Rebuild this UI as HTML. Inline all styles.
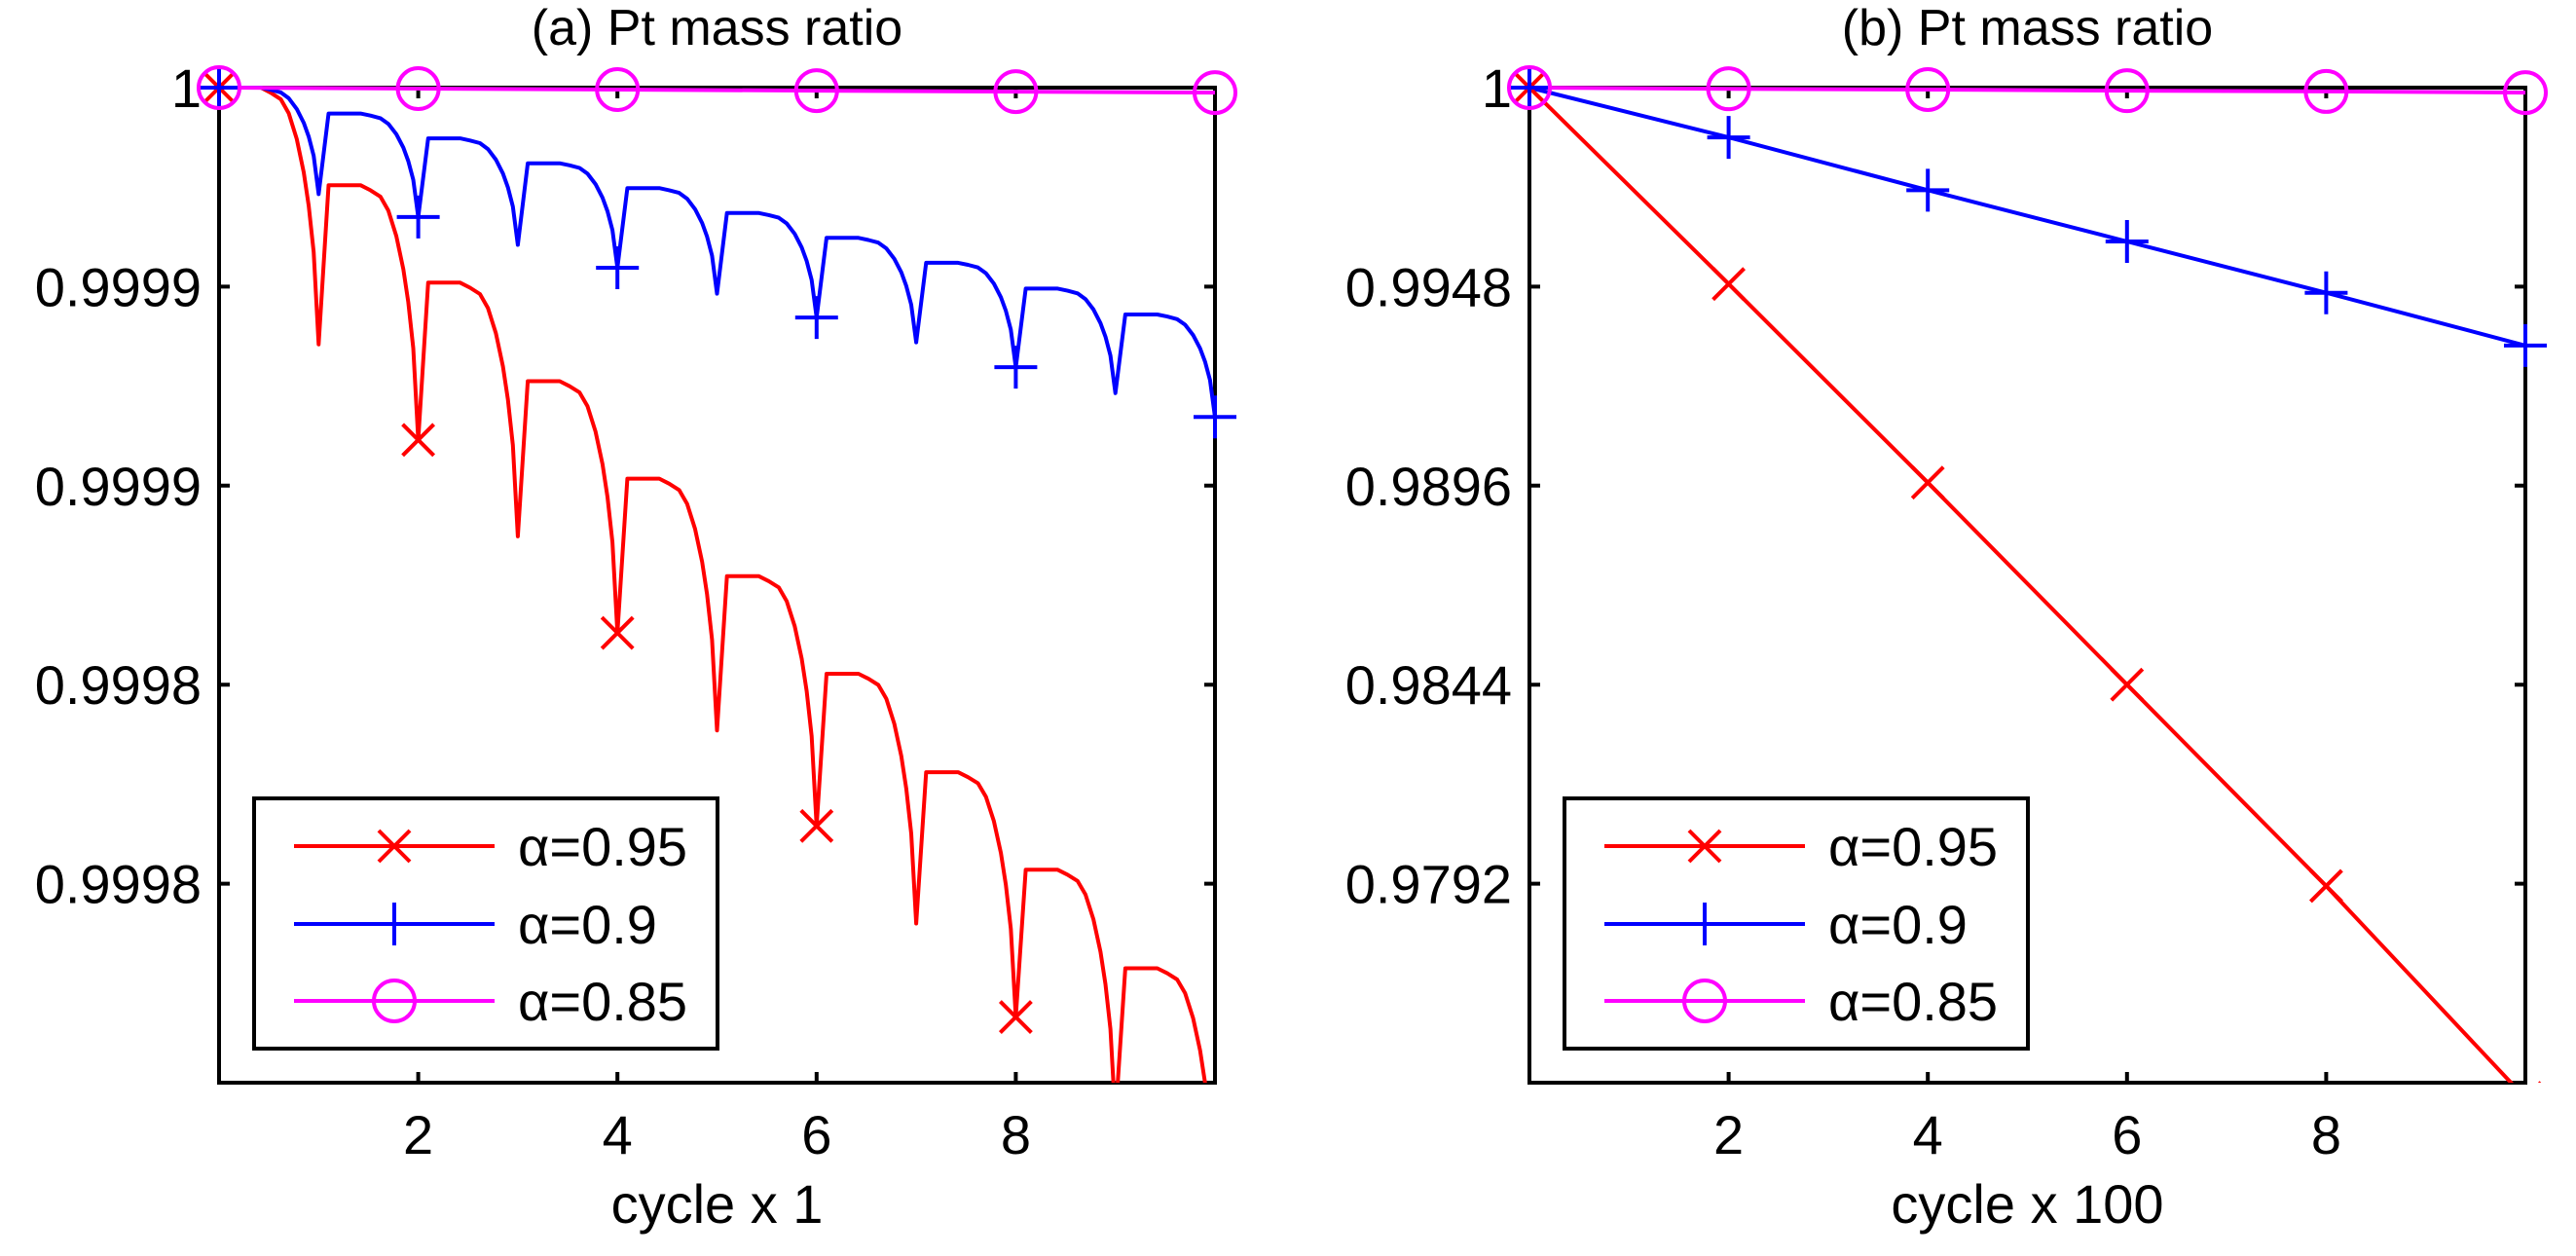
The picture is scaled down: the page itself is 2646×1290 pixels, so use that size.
<!DOCTYPE html>
<html><head><meta charset="utf-8">
<style>
html,body{margin:0;padding:0;background:#fff;}
svg{display:block;font-family:"Liberation Sans",sans-serif;}
</style></head>
<body>
<svg id="fig" width="2646" height="1290" viewBox="0 0 2646 1290" xmlns="http://www.w3.org/2000/svg"></svg>
<script>
// ---------- data: panel (a) ----------
const aCycles = [0,1,2,3,4,5,6,7,8,9];
// drop in units of 1e-5 : plateau level after jump at cycle k, and minimum reached at cycle k+1
const aRedPlateau  = [0, 0.98, 1.96, 2.95, 3.93, 4.91, 5.89, 6.88, 7.86, 8.85];
const aRedMin      = [2.58, 3.54, 4.51, 5.48, 6.46, 7.42, 8.40, 9.34, 10.36, 11.35];
const aBluePlateau = [0, 0.26, 0.51, 0.76, 1.01, 1.26, 1.51, 1.76, 2.02, 2.28];
const aBlueMin     = [1.07, 1.30, 1.58, 1.81, 2.07, 2.31, 2.56, 2.81, 3.07, 3.31];
// within-cycle decay shape (position in cycle, fraction of drop)
const shapeT    = [0.10, 0.42, 0.52, 0.62, 0.70, 0.78, 0.85, 0.90, 0.95, 1.00];
const shapeFrac = [0, 0, 0.02, 0.045, 0.10, 0.20, 0.33, 0.46, 0.64, 1];
const aMarkX = [0, 2, 4, 6, 8, 10];
const aMagenta = [0, 0.01, 0.02, 0.03, 0.04, 0.05];
const aYTicks = [1, 0.99998, 0.99996, 0.99994, 0.99992];
const aYTickLabels = ["1", "0.9999", "0.9999", "0.9998", "0.9998"];
// ---------- data: panel (b) ----------
const bX = [0, 2, 4, 6, 8, 10];
const bRed = [1, 0.99487, 0.98968, 0.98440, 0.97914, 0.9736];
const bBlue = [1, 0.99870, 0.99732, 0.99598, 0.99464, 0.99326];
const bMagenta = [1, 0.99997, 0.99995, 0.99992, 0.99990, 0.99987];
const bYTicks = [1, 0.9948, 0.9896, 0.9844, 0.9792];
const bYTickLabels = ["1", "0.9948", "0.9896", "0.9844", "0.9792"];
const xTicks = [2, 4, 6, 8];
const xTickLabels = ["2", "4", "6", "8"];

const NS = "http://www.w3.org/2000/svg";
const svg = document.getElementById('fig');
function mk(tag, attrs, parent) {
  const e = document.createElementNS(NS, tag);
  for (const k in attrs) e.setAttribute(k, attrs[k]);
  (parent || svg).appendChild(e);
  return e;
}
const RED = "#ff0000", BLUE = "#0000ff", MAG = "#ff00ff";

function marker(g, type, px, py, color) {
  let m;
  if (type === 'x') {
    m = mk('path', {d: `M${px-16},${py-16}L${px+16},${py+16}M${px-16},${py+16}L${px+16},${py-16}`, stroke: color, 'stroke-width': 4, fill: 'none'}, g);
  } else if (type === '+') {
    m = mk('path', {d: `M${px-22},${py}L${px+22},${py}M${px},${py-22}L${px},${py+22}`, stroke: color, 'stroke-width': 4, fill: 'none'}, g);
  } else {
    m = mk('circle', {cx: px, cy: py, r: 21, stroke: color, 'stroke-width': 4, fill: 'none'}, g);
  }
  
  
  return m;
}

function panel(opt) {
  const L = opt.left, R = opt.left + 1023, T = 90, B = 1112;
  const sx = v => L + (v - 0) / 10 * (R - L);
  const sy = v => T + (opt.yMax - v) / (opt.yMax - opt.yMin) * (B - T);
  const g = mk('g', {});
  
  
  const clipId = opt.name + '-clip';
  const cp = mk('clipPath', {id: clipId}, g);
  mk('rect', {x: L - 30, y: T - 30, width: R - L + 60, height: B - T + 30}, cp);

  const t = mk('text', {x: (L + R) / 2, y: 46, 'font-size': 52, 'text-anchor': 'middle', fill: '#000'}, g);
  t.textContent = opt.title;
  
  

  xTicks.forEach((v, i) => {
    const x = sx(v);
    const tk = mk('path', {d: `M${x},${B}L${x},${B-11}M${x},${T}L${x},${T+11}`, stroke: '#000', 'stroke-width': 4}, g);
    
    
    const tl = mk('text', {x: x, y: 1185, 'font-size': 56, 'text-anchor': 'middle'}, g);
    tl.textContent = xTickLabels[i];
    
    
  });
  opt.yTicks.forEach((v, i) => {
    const y = sy(v);
    const tk = mk('path', {d: `M${L},${y}L${L+11},${y}M${R},${y}L${R-11},${y}`, stroke: '#000', 'stroke-width': 4}, g);
    
    
    const tl = mk('text', {x: L - 18, y: y + 20, 'font-size': 56, 'text-anchor': 'end'}, g);
    tl.textContent = opt.yTickLabels[i];
    
    
  });
  const xl = mk('text', {x: (L + R) / 2, y: 1256, 'font-size': 56, 'text-anchor': 'middle'}, g);
  xl.textContent = opt.xlabel;
  
  

  const box = mk('rect', {x: L, y: T, width: R - L, height: B - T, fill: 'none', stroke: '#000', 'stroke-width': 4}, g);
  
  

  const sg = mk('g', {'clip-path': `url(#${clipId})`}, g);
  
  
  opt.series.forEach(s => {
    const d = s.pts.map((p, i) => (i ? 'L' : 'M') + sx(p[0]).toFixed(1) + ',' + sy(p[1]).toFixed(1)).join('');
    const pl = mk('path', {d: d, stroke: s.color, 'stroke-width': 4, fill: 'none', 'stroke-linejoin': 'round'}, sg);
    
    
  });
  opt.series.forEach(s => {
    s.marks.forEach(p => marker(sg, s.type, sx(p[0]), sy(p[1]), s.color));
  });

  const lg = mk('g', {}, g);
  
  
  const lx = opt.legendX;
  const lb = mk('rect', {x: lx, y: 820, width: 476, height: 257, fill: '#fff', stroke: '#000', 'stroke-width': 4}, lg);
  
  
  const ys = [869, 949, 1028];
  opt.series.forEach((s, i) => {
    const y = ys[i];
    const ln = mk('line', {x1: lx + 41, x2: lx + 247, y1: y, y2: y, stroke: s.color, 'stroke-width': 4}, lg);
    
    
    marker(lg, s.type, lx + 144, y, s.color);
    const tx = mk('text', {x: lx + 271, y: y + 20, 'font-size': 56}, lg);
    tx.textContent = s.label;
    
    
  });
}

function sawtooth(plateau, mins) {
  const pts = [];
  aCycles.forEach((k, i) => {
    const P = plateau[i], M = mins[i];
    shapeT.forEach((t, j) => {
      if (i === 0 && j === 0) { pts.push([0, 1 - P * 1e-5]); return; }
      pts.push([k + t, 1 - (P + (M - P) * shapeFrac[j]) * 1e-5]);
    });
  });
  return pts;
}
function minAt(mins, x) { return x === 0 ? 1 : 1 - mins[x - 1] * 1e-5; }

panel({
  name: 'panel-a', left: 225, title: '(a) Pt mass ratio', xlabel: 'cycle x 1',
  yMin: 0.9999, yMax: 1, yTicks: aYTicks, yTickLabels: aYTickLabels, legendX: 261,
  series: [
    {name: 'alpha-095', label: 'α=0.95', color: RED, type: 'x', pts: sawtooth(aRedPlateau, aRedMin),
     marks: aMarkX.map(x => [x, minAt(aRedMin, x)])},
    {name: 'alpha-09', label: 'α=0.9', color: BLUE, type: '+', pts: sawtooth(aBluePlateau, aBlueMin),
     marks: aMarkX.map(x => [x, minAt(aBlueMin, x)])},
    {name: 'alpha-085', label: 'α=0.85', color: MAG, type: 'o', pts: aMarkX.map((x, i) => [x, 1 - aMagenta[i] * 1e-5]),
     marks: aMarkX.map((x, i) => [x, 1 - aMagenta[i] * 1e-5])}
  ]
});
panel({
  name: 'panel-b', left: 1571, title: '(b) Pt mass ratio', xlabel: 'cycle x 100',
  yMin: 0.974, yMax: 1, yTicks: bYTicks, yTickLabels: bYTickLabels, legendX: 1607,
  series: [
    {name: 'alpha-095', label: 'α=0.95', color: RED, type: 'x', pts: bX.map((x, i) => [x, bRed[i]]), marks: bX.map((x, i) => [x, bRed[i]])},
    {name: 'alpha-09', label: 'α=0.9', color: BLUE, type: '+', pts: bX.map((x, i) => [x, bBlue[i]]), marks: bX.map((x, i) => [x, bBlue[i]])},
    {name: 'alpha-085', label: 'α=0.85', color: MAG, type: 'o', pts: bX.map((x, i) => [x, bMagenta[i]]), marks: bX.map((x, i) => [x, bMagenta[i]])}
  ]
});
</script>
</body></html>
